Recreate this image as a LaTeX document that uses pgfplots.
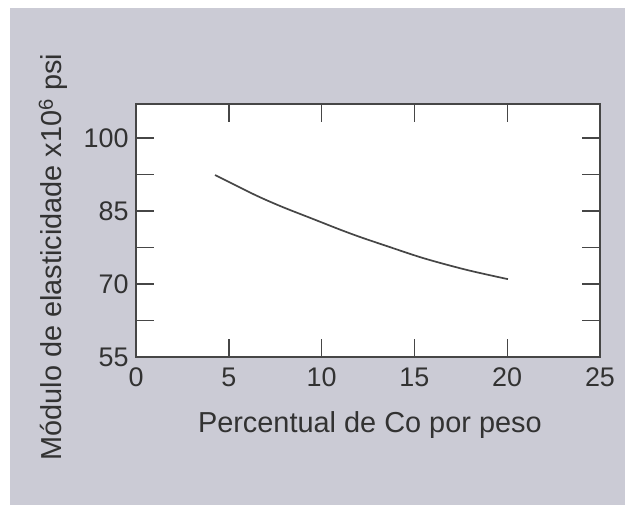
\documentclass[border=0pt]{standalone}
\usepackage{pgfplots}
\pgfplotsset{compat=1.18}
\usepackage{fontspec}
\setmainfont{Liberation Sans}
\definecolor{panel}{RGB}{203,203,213}
\definecolor{ink}{RGB}{70,70,70}
\definecolor{txt}{RGB}{50,50,50}

\pgfplotstableread{
x     y
4.26  92.4
6.42  88.3
7.85  85.9
9.45  83.5
11.05 81.1
12.12 79.6
13.36 78.0
15.50 75.3
17.82 72.9
20.04 71.0
}\modulus

\begin{document}
\begin{tikzpicture}
% page and grey panel
\fill[white] (0bp,0bp) rectangle (625bp,505bp);
\fill[panel] (10bp,0bp) rectangle (625bp,497bp);
\begin{axis}[
  at={(136bp,148bp)}, anchor=south west,
  width=464bp, height=253bp, scale only axis,
  xmin=0, xmax=25, ymin=55, ymax=107,
  axis background/.style={fill=white},
  axis line style={ink, line width=1.4bp},
  xtick={0,5,10,15,20,25},
  ytick={55,70,85,100},
  minor ytick={62.5,77.5,92.5},
  tick align=inside,
  major tick length=18bp, minor tick length=18bp,
  every tick/.style={ink, line width=1.4bp},
  tick label style={font=\fontsize{27}{30}\selectfont, text=txt},
  /pgf/number format/assume math mode=true,
  xticklabel style={yshift=-7bp},
  yticklabel style={xshift=-4bp},
  label style={font=\fontsize{29}{33}\selectfont, text=txt},
  xlabel={Percentual de Co por peso},
  ylabel={Módulo de elasticidade x10\textsuperscript{6} psi},
  xlabel style={at={(axis description cs:0.504,-0.27)}, anchor=center},
  ylabel style={at={(axis description cs:-0.178,0.395)}, anchor=center},
  clip=false,
]
\addplot[ink, line width=1.7bp, smooth] table[x=x, y=y] {\modulus};
\end{axis}
\end{tikzpicture}
\end{document}
